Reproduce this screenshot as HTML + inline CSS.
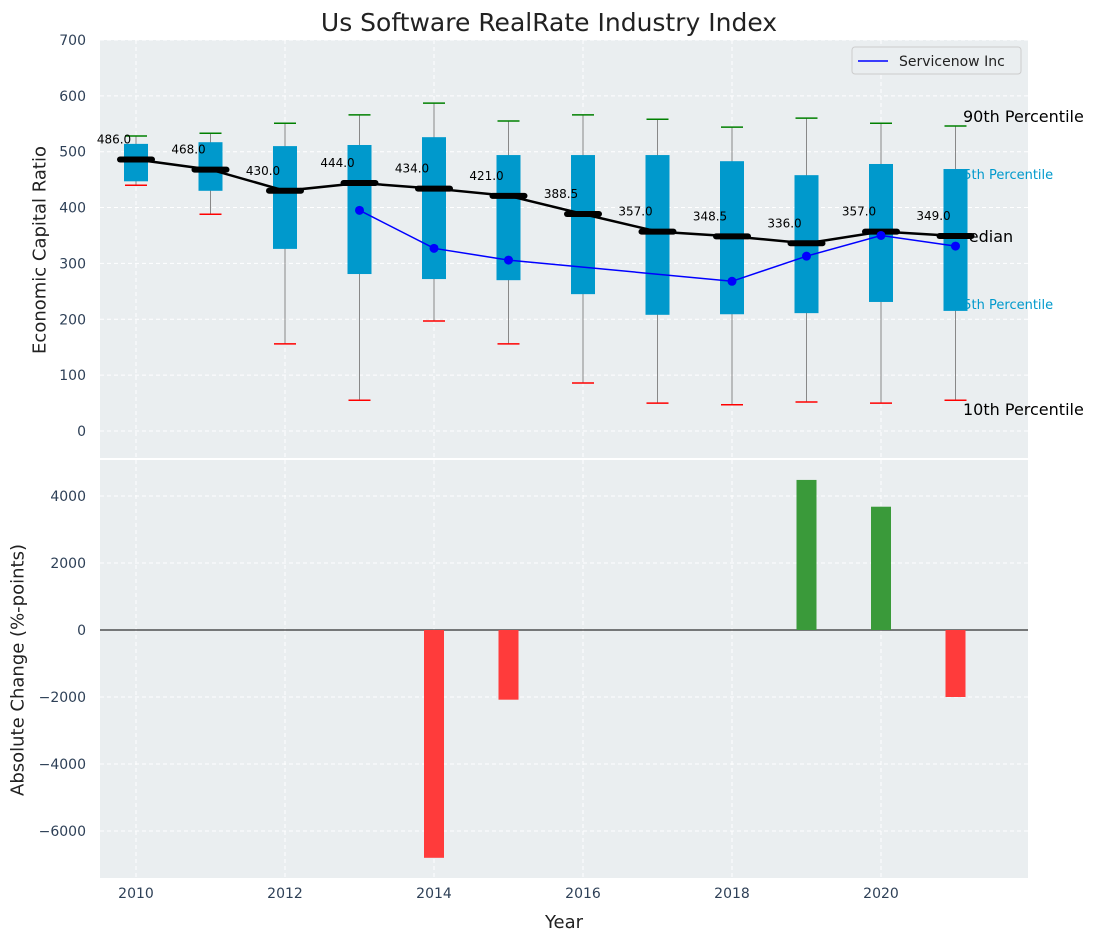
<!DOCTYPE html>
<html><head><meta charset="utf-8"><style>
body{margin:0;background:#fff;font-family:"Liberation Sans","DejaVu Sans",sans-serif;}
svg text{font-family:"DejaVu Sans","Liberation Sans",sans-serif;}
</style></head><body>
<svg id="c" width="1098" height="942" xmlns="http://www.w3.org/2000/svg" style="position:absolute;left:0;top:0">
<text x="549" y="31" font-size="25" text-anchor="middle" fill="#222">Us Software RealRate Industry Index</text>
<rect x="100" y="40" width="928" height="418" fill="#eaeef0"/>
<rect x="100" y="460" width="928" height="418" fill="#eaeef0"/>
<g id="topG"></g><g id="botG"></g>
</svg>
<script>
const years=[2010,2011,2012,2013,2014,2015,2016,2017,2018,2019,2020,2021];
const medians=[486,468,430,444,434,421,388.5,357,348.5,336,357,349];
const q75=[514,517,510,512,526,494,494,494,483,458,478,469];
const q25=[447,430,326,281,272,270,245,208,209,211,231,215];
const p90=[528,533,551,566,587,555,566,558,544,560,551,546];
const p10=[440,388,156,55,197,156,86,50,47,52,50,55];
const companyYears=[2013,2014,2015,2018,2019,2020,2021];
const companyVals=[395,327,306,268,313,350,331];
const changeYears=[2014,2015,2019,2020,2021];
const changeVals=[-6800,-2080,4480,3680,-2000];
const yTicksTop=[0,100,200,300,400,500,600,700];
const yTicksBot=[-6000,-4000,-2000,0,2000,4000];
const xTicks=[2010,2012,2014,2016,2018,2020];

const NS="http://www.w3.org/2000/svg";
const X=v=>136+(v-2010)*74.5;
const YT=v=>431-v*0.5586;
const YB=v=>630-v*0.0335;
const topG=document.getElementById('topG'),botG=document.getElementById('botG');
function el(p,t,a,txt){const e=document.createElementNS(NS,t);for(const k in a)e.setAttribute(k,a[k]);if(txt!==undefined)e.textContent=txt;p.appendChild(e);return e;}
xTicks.forEach(t=>{
 let g=el(topG,'line',{x1:X(t),x2:X(t),y1:40,y2:458,stroke:'#fff','stroke-dasharray':'4,3'});
 
 
 let g2=el(botG,'line',{x1:X(t),x2:X(t),y1:460,y2:878,stroke:'#fff','stroke-dasharray':'4,3'});
 
 
 let l=el(botG,'text',{x:X(t),y:898,'font-size':14,'text-anchor':'middle',fill:'#2e4057'},t);
 
 
});
yTicksTop.forEach(t=>{
 let g=el(topG,'line',{x1:100,x2:1028,y1:YT(t),y2:YT(t),stroke:'#fff','stroke-dasharray':'4,3'});
 
 
 let l=el(topG,'text',{x:86,y:YT(t)+5,'font-size':14,'text-anchor':'end',fill:'#2e4057'},t);
 
 
});
yTicksBot.forEach(t=>{
 let g=el(botG,'line',{x1:100,x2:1028,y1:YB(t),y2:YB(t),stroke:'#fff','stroke-dasharray':'4,3'});
 
 
 let l=el(botG,'text',{x:86,y:YB(t)+5,'font-size':14,'text-anchor':'end',fill:'#2e4057'},t<0?'−'+(-t):t);
 
 
});
[['90th Percentile',963,122,16,'#000'],['75th Percentile',955,179,13,'#0099cc'],['Median',955,242,16,'#000'],['25th Percentile',955,309,13,'#0099cc'],['10th Percentile',963,415,16,'#000']].forEach(a=>{
 let t=el(topG,'text',{x:a[1],y:a[2],'font-size':a[3],fill:a[4]},a[0]);
 
 
});
years.forEach((y,i)=>{
 const x=X(y);
 let w=el(topG,'line',{x1:x,x2:x,y1:YT(p90[i]),y2:YT(p10[i]),stroke:'#888','stroke-width':1});
 
 
 let b=el(topG,'rect',{x:x-12,y:YT(q75[i]),width:24,height:YT(q25[i])-YT(q75[i]),fill:'#0099cc'});
 
 
 let h=el(topG,'line',{x1:x-11,x2:x+11,y1:YT(p90[i]),y2:YT(p90[i]),stroke:'green','stroke-width':1.5});
 
 
 let lo=el(topG,'line',{x1:x-11,x2:x+11,y1:YT(p10[i]),y2:YT(p10[i]),stroke:'red','stroke-width':1.5});
 
 
});
let mp=years.map((y,i)=>X(y)+','+YT(medians[i])).join(' ');
let ml=el(topG,'polyline',{points:mp,fill:'none',stroke:'#000','stroke-width':2.5});


years.forEach((y,i)=>{
 let m=el(topG,'line',{x1:X(y)-16,x2:X(y)+16,y1:YT(medians[i]),y2:YT(medians[i]),stroke:'#000','stroke-width':6,'stroke-linecap':'round'});
 
 
 let t=el(topG,'text',{x:X(y)-22,y:YT(medians[i])-16,'font-size':12,'text-anchor':'middle',fill:'#000'},medians[i].toFixed(1));
 
 
});
let cp=companyYears.map((y,i)=>X(y)+','+YT(companyVals[i])).join(' ');
let cl=el(topG,'polyline',{points:cp,fill:'none',stroke:'blue','stroke-width':1.5});


companyYears.forEach((y,i)=>{
 let d=el(topG,'circle',{cx:X(y),cy:YT(companyVals[i]),r:4.5,fill:'blue'});
 
 
});
let lg=el(topG,'g',{});


el(lg,'rect',{x:852,y:47,width:169,height:27,fill:'#eaeef0',stroke:'#ccc',rx:3});
el(lg,'line',{x1:858,x2:888,y1:61,y2:61,stroke:'blue','stroke-width':1.5});
el(lg,'text',{x:899,y:66,'font-size':14,fill:'#222'},'Servicenow Inc');
el(botG,'line',{x1:100,x2:1028,y1:YB(0),y2:YB(0),stroke:'#000','stroke-width':1});
changeYears.forEach((y,i)=>{
 const v=changeVals[i];
 let r=el(botG,'rect',{x:X(y)-10,y:Math.min(YB(v),YB(0)),width:20,height:Math.abs(YB(v)-YB(0)),fill:v>=0?'#3a9a3a':'#ff3b3b'});
 
 
});
</script>
<div style="position:absolute;left:0;top:0;width:1098px;height:942px;pointer-events:none">
<div style="position:absolute;left:40px;top:250px;transform:translate(-50%,-50%) rotate(-90deg);font-size:18px;color:#222;white-space:nowrap;font-family:'DejaVu Sans',sans-serif">Economic Capital Ratio</div>
<div style="position:absolute;left:18px;top:670px;transform:translate(-50%,-50%) rotate(-90deg);font-size:18px;color:#222;white-space:nowrap;font-family:'DejaVu Sans',sans-serif">Absolute Change (%-points)</div>
<div style="position:absolute;left:564px;top:912px;transform:translateX(-50%);font-size:18px;color:#222;font-family:'DejaVu Sans',sans-serif">Year</div>
</div>
</body></html>
